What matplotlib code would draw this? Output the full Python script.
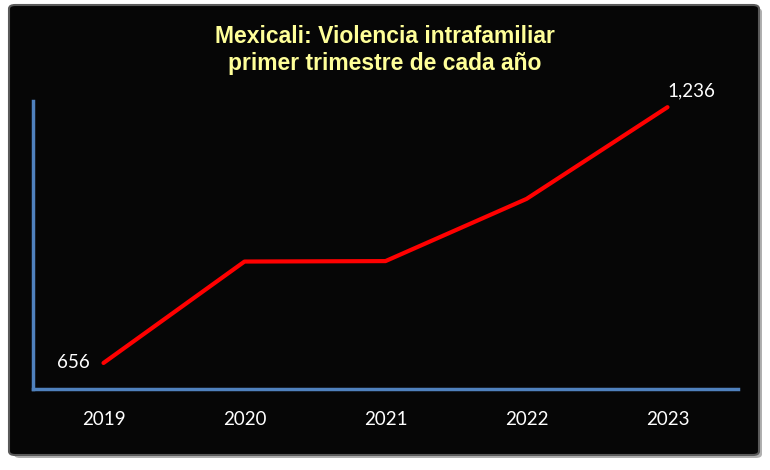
import matplotlib.pyplot as plt
from matplotlib.patches import FancyBboxPatch

years = ['2019', '2020', '2021', '2022', '2023']
casos = [656, 886, 887, 1028, 1236]

fig = plt.figure(figsize=(7.7, 4.7), dpi=100)
fig.patch.set_facecolor('white')

# marco negro con sombra
shadow = FancyBboxPatch((14 / 770, 12 / 470), 748 / 770, 450 / 470,
                        boxstyle='round,pad=0,rounding_size=0.008',
                        transform=fig.transFigure, facecolor='#b0b0b0',
                        edgecolor='none', zorder=-2)
frame = FancyBboxPatch((9 / 770, 15 / 470), 750 / 770, 450 / 470,
                       boxstyle='round,pad=0,rounding_size=0.008',
                       transform=fig.transFigure, facecolor='#060606',
                       edgecolor='#5a5a5a', linewidth=1.5, zorder=-1)
fig.patches.extend([shadow, frame])

ax = fig.add_axes([33 / 770, 81 / 470, 705 / 770, 288 / 470])
ax.set_facecolor('none')
x = list(range(len(years)))
ax.plot(x, casos, color='#ff0000', linewidth=3, solid_capstyle='round')

ax.set_xlim(-0.5, 4.5)
ax.set_ylim(597, 1250)
ax.set_yticks([])
ax.set_xticks(x)
ax.set_xticklabels(years, color='white', fontsize=13.5, family='Lato')
ax.tick_params(axis='x', length=0, pad=16)

for side in ['top', 'right']:
    ax.spines[side].set_visible(False)
for side in ['left', 'bottom']:
    ax.spines[side].set_color('#4f81bd')
    ax.spines[side].set_linewidth(2.5)

ax.annotate('656', (0, casos[0]), xytext=(-14, 0), textcoords='offset pixels',
            ha='right', va='center', color='white', fontsize=13.5, family='Lato')
ax.annotate('1,236', (4, casos[-1]), xytext=(0, 16), textcoords='offset pixels',
            ha='left', va='center', color='white', fontsize=13.5, family='Lato')

fig.text(385 / 770, 1 - 50 / 470, 'Mexicali: Violencia intrafamiliar\nprimer trimestre de cada año',
         ha='center', va='center', color='#ffff99', fontsize=16.5, fontweight='bold',
         family=['Liberation Sans', 'DejaVu Sans'], linespacing=1.2)

fig.savefig('out.png', dpi=100, facecolor='white')
